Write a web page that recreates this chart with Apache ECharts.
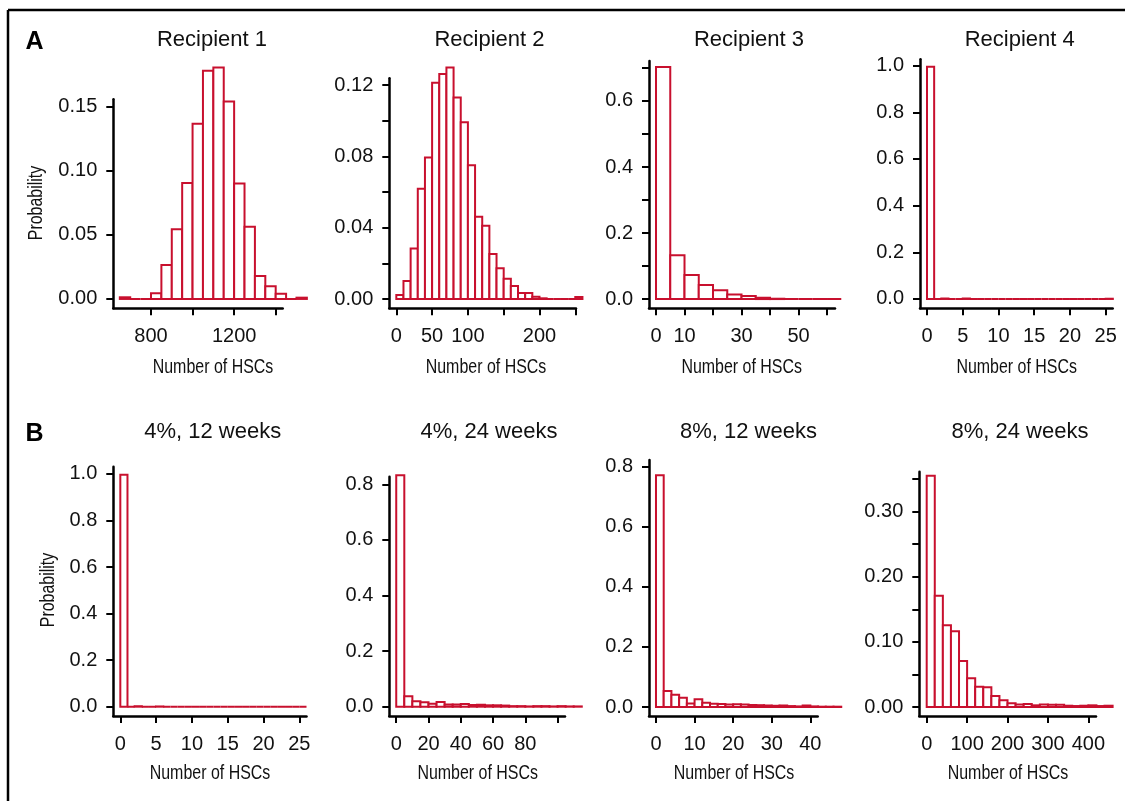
<!DOCTYPE html>
<html>
<head>
<meta charset="utf-8">
<script src="https://cdn.jsdelivr.net/npm/echarts@6/dist/echarts.min.js"></script>
<style>
html, body { margin: 0; padding: 0; background: #fff; }
#main { width: 1125px; height: 801px; }
</style>
</head>
<body>
<div id="main"></div>
<script>
// histogram bins: left edge of every bin + probability of that bin

// A: Recipient 1..4
const rec1Width = 50;
const rec1Bins = [650, 700, 750, 800, 850, 900, 950, 1000, 1050, 1100, 1150, 1200, 1250, 1300, 1350, 1400, 1450, 1500];
const rec1Prob = [0.0013, 0, 0, 0.0044, 0.0265, 0.0543, 0.0905, 0.1368, 0.178, 0.1807, 0.154, 0.090, 0.0564, 0.018, 0.010, 0.004, 0, 0.001];

const rec2Width = 10;
const rec2Bins = [0, 10, 20, 30, 40, 50, 60, 70, 80, 90, 100, 110, 120, 130, 140, 150, 160, 170, 180, 190, 200, 210, 220, 230, 240, 250];
const rec2Prob = [0.0022, 0.0101, 0.0284, 0.0619, 0.0794, 0.1213, 0.1262, 0.1299, 0.1131, 0.0991, 0.0751, 0.0462, 0.0411, 0.0252, 0.0172, 0.0114, 0.0073, 0.0034, 0.0034, 0.0013, 0.0004, 0, 0, 0, 0, 0.0012];

const rec3Width = 5;
const rec3Bins = [0, 5, 10, 15, 20, 25, 30, 35, 40, 45, 50, 55, 60];
const rec3Prob = [0.703, 0.133, 0.0727, 0.0424, 0.0263, 0.0141, 0.0091, 0.004, 0.001, 0, 0, 0, 0];

const rec4Width = 1;
const rec4Bins = [0, 1, 2, 3, 4, 5, 6, 7, 8, 9, 10, 11, 12, 13, 14, 15, 16, 17, 18, 19, 20, 21, 22, 23, 24, 25];
const rec4Prob = [0.995, 0, 0.002, 0, 0, 0.002, 0, 0, 0, 0, 0, 0, 0, 0, 0, 0, 0, 0, 0, 0, 0, 0, 0, 0, 0, 0.001];

// B: dose / time
const b1Width = 1;
const b1Bins = [0, 1, 2, 3, 4, 5, 6, 7, 8, 9, 10, 11, 12, 13, 14, 15, 16, 17, 18, 19, 20, 21, 22, 23, 24, 25];
const b1Prob = [0.996, 0, 0.002, 0, 0, 0.001, 0, 0, 0, 0, 0, 0, 0, 0, 0, 0, 0, 0, 0, 0, 0, 0, 0, 0, 0, 0];

const b2Width = 5;
const b2Bins = [0, 5, 10, 15, 20, 25, 30, 35, 40, 45, 50, 55, 60, 65, 70, 75, 80, 85, 90, 95, 100, 105, 110];
const b2Prob = [0.833, 0.038, 0.020, 0.0156, 0.011, 0.017, 0.008, 0.008, 0.0096, 0.006, 0.007, 0.005, 0.005, 0.004, 0.002, 0.002, 0.001, 0.002, 0.002, 0.001, 0.002, 0.001, 0.001];

const b3Width = 2;
const b3Bins = [0, 2, 4, 6, 8, 10, 12, 14, 16, 18, 20, 22, 24, 26, 28, 30, 32, 34, 36, 38, 40, 42, 44, 46];
const b3Prob = [0.771, 0.053, 0.041, 0.031, 0.012, 0.026, 0.014, 0.011, 0.010, 0.008, 0.009, 0.008, 0.007, 0.006, 0.005, 0.004, 0.005, 0.003, 0.002, 0.005, 0.002, 0.001, 0.001, 0.001];

const b4Width = 20;
const b4Bins = [0, 20, 40, 60, 80, 100, 120, 140, 160, 180, 200, 220, 240, 260, 280, 300, 320, 340, 360, 380, 400, 420, 440];
const b4Prob = [0.355, 0.171, 0.1254, 0.1162, 0.0707, 0.044, 0.0312, 0.0302, 0.0169, 0.0102, 0.0056, 0.004, 0.0046, 0.0026, 0.004, 0.0036, 0.0036, 0.002, 0.0015, 0.002, 0.0026, 0.0015, 0.002];

// ticks and which of them carry a label
const rec1XTicks = [800, 1000, 1200, 1400];
const rec1XLabels = [800, 1200];
const rec1YTicks = [0, 0.05, 0.10, 0.15];
const rec1YLabels = [0, 0.05, 0.10, 0.15];

const rec2XTicks = [0, 50, 100, 150, 200, 250];
const rec2XLabels = [0, 50, 100, 200];
const rec2YTicks = [0, 0.02, 0.04, 0.06, 0.08, 0.10, 0.12];
const rec2YLabels = [0, 0.04, 0.08, 0.12];

const rec3XTicks = [0, 10, 20, 30, 40, 50, 60];
const rec3XLabels = [0, 10, 30, 50];
const rec3YTicks = [0, 0.1, 0.2, 0.3, 0.4, 0.5, 0.6, 0.7];
const rec3YLabels = [0, 0.2, 0.4, 0.6];

const rec4XTicks = [0, 5, 10, 15, 20, 25];
const rec4YTicks = [0, 0.2, 0.4, 0.6, 0.8, 1.0];

const b1XTicks = [0, 5, 10, 15, 20, 25];
const b1YTicks = [0, 0.2, 0.4, 0.6, 0.8, 1.0];

const b2XTicks = [0, 20, 40, 60, 80, 100];
const b2XLabels = [0, 20, 40, 60, 80];
const b2YTicks = [0, 0.2, 0.4, 0.6, 0.8];

const b3XTicks = [0, 10, 20, 30, 40];
const b3YTicks = [0, 0.2, 0.4, 0.6, 0.8];

const b4XTicks = [0, 100, 200, 300, 400];
const b4YTicks = [0, 0.05, 0.10, 0.15, 0.20, 0.25, 0.30, 0.35];
const b4YLabels = [0, 0.10, 0.20, 0.30];

const panelTitles = ['Recipient 1', 'Recipient 2', 'Recipient 3', 'Recipient 4',
                     '4%, 12 weeks', '4%, 24 weeks', '8%, 12 weeks', '8%, 24 weeks'];

const RED = '#C8102E';
const INK = '#111';
const TICK_FONT = '"Liberation Sans", Arial, Helvetica, sans-serif';
// no condensed face installed: squeeze the regular one instead
const NARROW = 0.76;

// grid box in pixels and the axis range (R style, padded) for every panel
const panels = [
    { bins: rec1Bins, w: rec1Width, prob: rec1Prob, xt: rec1XTicks, xl: rec1XLabels, yt: rec1YTicks, yl: rec1YLabels, dec: 2,
      box: [113.3, 99.3, 169.4, 209], x: [618.6, 1433.7], y: [-0.0073, 0.1558], tx: 212, xn: 213 },
    { bins: rec2Bins, w: rec2Width, prob: rec2Prob, xt: rec2XTicks, xl: rec2XLabels, yt: rec2YTicks, yl: rec2YLabels, dec: 2,
      box: [389.3, 78.3, 186.7, 230], x: [-9.8, 251], y: [-0.0052, 0.1238], tx: 489.5, xn: 486 },
    { bins: rec3Bins, w: rec3Width, prob: rec3Prob, xt: rec3XTicks, xl: rec3XLabels, yt: rec3YTicks, yl: rec3YLabels, dec: 1,
      box: [649, 61, 186, 247.3], x: [-2.46, 62.8], y: [-0.028, 0.721], tx: 749, xn: 741.7 },
    { bins: rec4Bins, w: rec4Width, prob: rec4Prob, xt: rec4XTicks, xl: rec4XTicks, yt: rec4YTicks, yl: rec4YTicks, dec: 1,
      box: [920, 59.3, 192.7, 249], x: [-0.98, 25.98], y: [-0.04, 1.027], tx: 1019.7, xn: 1016.7 },
    { bins: b1Bins, w: b1Width, prob: b1Prob, xt: b1XTicks, xl: b1XTicks, yt: b1YTicks, yl: b1YTicks, dec: 1,
      box: [113.3, 466.7, 193.2, 249.3], x: [-0.98, 26], y: [-0.04, 1.031], tx: 212.7, xn: 210 },
    { bins: b2Bins, w: b2Width, prob: b2Prob, xt: b2XTicks, xl: b2XLabels, yt: b2YTicks, yl: b2YTicks, dec: 1,
      box: [389.3, 476.7, 175.7, 239.3], x: [-4.3, 104.6], y: [-0.0335, 0.8275], tx: 489, xn: 477.7 },
    { bins: b3Bins, w: b3Width, prob: b3Prob, xt: b3XTicks, xl: b3XTicks, yt: b3YTicks, yl: b3YTicks, dec: 1,
      box: [649, 460, 168.7, 256], x: [-1.81, 41.9], y: [-0.03, 0.822], tx: 748.5, xn: 734 },
    { bins: b4Bins, w: b4Width, prob: b4Prob, xt: b4XTicks, xl: b4XTicks, yt: b4YTicks, yl: b4YLabels, dec: 2,
      box: [919.3, 471.7, 176.7, 244.3], x: [-18.3, 418.9], y: [-0.0138, 0.3614], tx: 1020, xn: 1008 }
];

function renderBin(params, api) {
    let top = api.coord([api.value(0), api.value(2)]);
    let base = api.coord([api.value(1), 0]);
    return {
        type: 'rect',
        shape: { x: top[0], y: top[1], width: base[0] - top[0], height: base[1] - top[1] },
        style: { fill: '#fff', stroke: RED, lineWidth: 2 }
    };
}

function narrowText(x, y, text, rotated) {
    return {
        type: 'text', x: x, y: y, scaleX: NARROW, rotation: rotated ? Math.PI / 2 : 0,
        style: { text: text, fill: INK, font: '21px ' + TICK_FONT, textAlign: 'center', textVerticalAlign: 'middle' }
    };
}

let grids = [], xAxes = [], yAxes = [], series = [];
let graphics = [];

panels.forEach(function (p, i) {
    grids.push({ left: p.box[0], top: p.box[1], width: p.box[2], height: p.box[3] });
    xAxes.push({
        gridIndex: i, type: 'value', min: p.x[0], max: p.x[1],
        axisLine: { show: true, onZero: false, lineStyle: { color: '#000', width: 2.5 } },
        axisTick: { show: true, customValues: p.xt, length: 7, lineStyle: { color: '#000', width: 2 } },
        axisLabel: { customValues: p.xl, margin: 18, fontSize: 20, color: INK, fontFamily: TICK_FONT,
                     formatter: function (v) { return String(Math.round(v)); } },
        splitLine: { show: false }
    });
    yAxes.push({
        gridIndex: i, type: 'value', min: p.y[0], max: p.y[1],
        axisLine: { show: true, onZero: false, lineStyle: { color: '#000', width: 2.5 } },
        axisTick: { show: true, customValues: p.yt, length: 7, lineStyle: { color: '#000', width: 2 } },
        axisLabel: { customValues: p.yl, margin: 16, fontSize: 20, color: INK, fontFamily: TICK_FONT,
                     formatter: function (v) { return v.toFixed(p.dec); } },
        splitLine: { show: false }
    });
    series.push({
        type: 'custom', xAxisIndex: i, yAxisIndex: i, clip: false,
        renderItem: renderBin,
        encode: { x: [0, 1], y: 2 },
        data: p.bins.map(function (b, k) { return [b, b + p.w, p.prob[k]]; })
    });
    let row = i < 4 ? 0 : 1;
    graphics.push({
        type: 'text', x: p.tx, y: row ? 431.7 : 39.5,
        style: { text: panelTitles[i], fill: INK, font: '22px ' + TICK_FONT, textAlign: 'center', textVerticalAlign: 'middle' }
    });
    graphics.push(narrowText(p.xn, row ? 773 : 367, 'Number of HSCs', false));
});

// y titles, panel letters, figure frame
graphics.push(
    narrowText(36, 203, 'Probability', true),
    narrowText(48, 590, 'Probability', true),
    { type: 'text', x: 34.5, y: 42, style: { text: 'A', fill: '#000', font: 'bold 25px ' + TICK_FONT, textAlign: 'center', textVerticalAlign: 'middle' } },
    { type: 'text', x: 34.5, y: 434, style: { text: 'B', fill: '#000', font: 'bold 25px ' + TICK_FONT, textAlign: 'center', textVerticalAlign: 'middle' } },
    { type: 'line', shape: { x1: 8, y1: 10, x2: 1125, y2: 10 }, style: { stroke: '#000', lineWidth: 2.5 } },
    { type: 'line', shape: { x1: 8, y1: 10, x2: 8, y2: 801 }, style: { stroke: '#000', lineWidth: 2.5 } }
);

let chart = echarts.init(document.getElementById('main'));
chart.setOption({
    backgroundColor: '#fff',
    animation: false,
    grid: grids,
    xAxis: xAxes,
    yAxis: yAxes,
    series: series,
    graphic: graphics
});
</script>
</body>
</html>
